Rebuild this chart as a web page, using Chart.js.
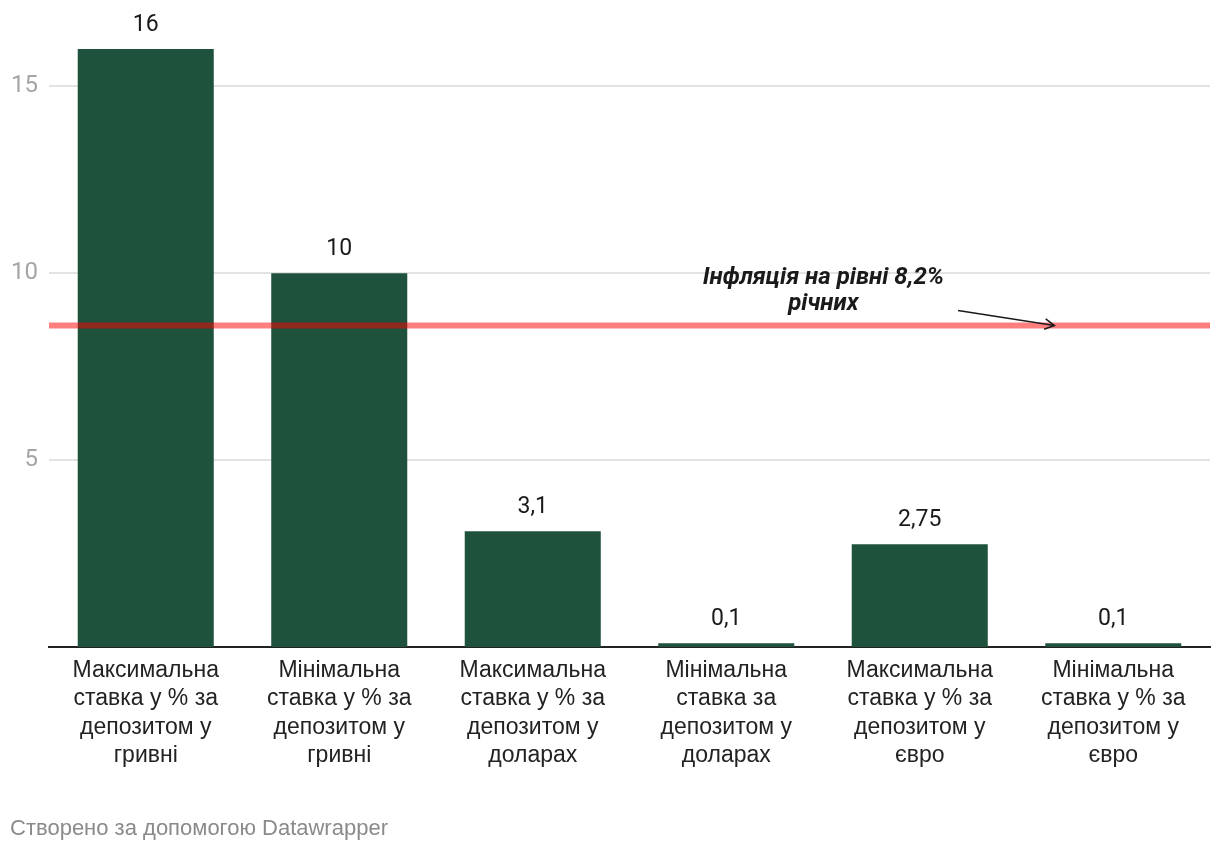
<!DOCTYPE html>
<html>
<head>
<meta charset="utf-8">
<script src="https://cdn.jsdelivr.net/npm/chart.js@4.4.1/dist/chart.umd.min.js"></script>
<style>
  html, body { margin: 0; padding: 0; background: #fff; }
  #wrap { position: relative; width: 1220px; height: 852px; }
  #footer { position: absolute; left: 10px; top: 815px; font: 22px "Liberation Sans", Arial, sans-serif; color: #8a8a8a; }
</style>
</head>
<body>
<div id="wrap">
  <canvas id="myChart" width="1220" height="852"></canvas>
  <div id="footer">Створено за допомогою Datawrapper</div>
</div>
<script>
const categories = [
    ['Максимальна', 'ставка у % за', 'депозитом у', 'гривні'],
    ['Мінімальна', 'ставка у % за', 'депозитом у', 'гривні'],
    ['Максимальна', 'ставка у % за', 'депозитом у', 'доларах'],
    ['Мінімальна', 'ставка за', 'депозитом у', 'доларах'],
    ['Максимальна', 'ставка у % за', 'депозитом у', 'євро'],
    ['Мінімальна', 'ставка у % за', 'депозитом у', 'євро']
];
const rates = [16, 10, 3.1, 0.1, 2.75, 0.1];
const yTicks = [5, 10, 15];
const inflationLevel = 8.6;
const inflationNote = ['Інфляція на рівні 8,2%', 'річних'];

const ctx = document.getElementById('myChart');

function fmt(v) {
    return String(v).replace('.', ',');
}

const overlay = {
    id: 'overlay',
    afterDatasetsDraw(chart) {
        const c = chart.ctx;
        const area = chart.chartArea;
        const y = chart.scales.y;

        // value labels above bars
        const meta = chart.getDatasetMeta(0);
        c.save();
        c.font = '23px Roboto';
        c.fillStyle = '#1a1a1a';
        c.textAlign = 'center';
        c.textBaseline = 'middle';
        meta.data.forEach((bar, i) => {
            c.fillText(fmt(rates[i]), bar.x, bar.y - 24);
        });

        // inflation line
        const ly = y.getPixelForValue(inflationLevel);
        c.strokeStyle = 'rgba(255,0,0,0.5)';
        c.lineWidth = 6;
        c.beginPath();
        c.moveTo(area.left, ly);
        c.lineTo(area.right, ly);
        c.stroke();

        // annotation text
        const w = area.right - area.left;
        const tx = area.left + w * 0.667;
        c.font = 'italic bold 24px Roboto';
        c.letterSpacing = '0px';
        c.fillStyle = '#1a1a1a';
        c.fillText(inflationNote[0], tx, ly - 48);
        c.fillText(inflationNote[1], tx, ly - 22);

        // arrow
        const ax0 = area.left + w * 0.783, ay0 = ly - 15;
        const ax1 = area.left + w * 0.866, ay1 = ly;
        c.strokeStyle = '#1a1a1a';
        c.lineWidth = 1.5;
        c.beginPath();
        c.moveTo(ax0, ay0);
        c.lineTo(ax1, ay1);
        c.stroke();
        const ang = Math.atan2(ay1 - ay0, ax1 - ax0);
        c.beginPath();
        c.moveTo(ax1 - 11 * Math.cos(ang - 0.5), ay1 - 11 * Math.sin(ang - 0.5));
        c.lineTo(ax1, ay1);
        c.lineTo(ax1 - 11 * Math.cos(ang + 0.5), ay1 - 11 * Math.sin(ang + 0.5));
        c.stroke();
        c.restore();
    }
};

new Chart(ctx, {
    type: 'bar',
    data: {
        labels: categories,
        datasets: [{
            data: rates,
            backgroundColor: '#1f523d',
            categoryPercentage: 1,
            barPercentage: 0.703
        }]
    },
    options: {
        responsive: false,
        animation: false,
        layout: { padding: { top: 0, right: 10, left: 0, bottom: 0 } },
        plugins: { legend: { display: false }, tooltip: { enabled: false } },
        scales: {
            x: {
                grid: { display: false, drawTicks: false },
                border: { color: '#222', width: 2 },
                ticks: {
                    color: '#222',
                    padding: 9,
                    maxRotation: 0,
                    autoSkip: false,
                    font: { family: 'Liberation Sans', size: 23, lineHeight: 1.24 }
                },
                afterFit(scale) { scale.height = 205; }
            },
            y: {
                min: 0,
                max: 16.63,
                border: { display: false },
                grid: {
                    drawTicks: false,
                    color: (c) => c.tick && c.tick.value === 0 ? 'rgba(0,0,0,0)' : '#e3e3e3',
                    lineWidth: 2
                },
                ticks: {
                    color: '#a5a5a5',
                    padding: 11,
                    font: { family: 'Roboto', size: 24 }
                },
                afterBuildTicks(scale) {
                    scale.ticks = yTicks.map(v => ({ value: v }));
                },
                afterFit(scale) { scale.width = 49; }
            }
        }
    },
    plugins: [overlay]
});
</script>
</body>
</html>
